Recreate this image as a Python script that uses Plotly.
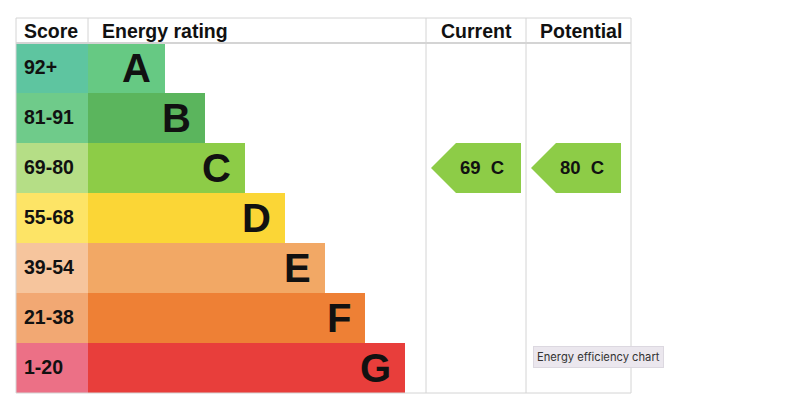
import plotly.graph_objects as go

# EPC bands, top (best) to bottom (worst)
bands = ["A", "B", "C", "D", "E", "F", "G"]
score_ranges = ["92+", "81-91", "69-80", "55-68", "39-54", "21-38", "1-20"]
band_min_scores = [92, 81, 69, 55, 39, 21, 1]
current_score = 69
potential_score = 80

band_colors = ["#66c983", "#5bb55d", "#8dcc47", "#fbd636", "#f2a865", "#ee8035", "#e83e3b"]
score_colors = ["#5ec5a0", "#6fcb8a", "#b5de86", "#fde466", "#f6c59d", "#f2a873", "#ec7086"]

FONT = "Liberation Sans"
GRID = "#d4d4d4"

# table geometry (in axis units == page pixels)
left, score_w, bar_x0 = 16, 72, 88
top, header_h, row_h = 18, 25, 50
col_cur, col_pot, right = 426, 526, 631
bottom = top + header_h + row_h * len(bands)

row_y = [top + header_h + row_h * (i + 0.5) for i in range(len(bands))]
bar_len = [77 + 40 * i for i in range(len(bands))]

# the page body has an 8px margin, so the figure starts at (8, 8)
OFF = 8


def band_of(score):
    for i, m in enumerate(band_min_scores):
        if score >= m:
            return i
    return len(bands) - 1


fig = go.Figure()

# score column cells
fig.add_trace(go.Bar(
    orientation="h", y=row_y, x=[score_w] * len(bands), base=left, width=row_h,
    marker=dict(color=score_colors, line=dict(width=0)), hoverinfo="skip",
    showlegend=False,
))
# rating bars
fig.add_trace(go.Bar(
    orientation="h", y=row_y, x=bar_len, base=bar_x0, width=row_h,
    marker=dict(color=band_colors, line=dict(width=0)), hoverinfo="skip",
    showlegend=False,
))

annotations = []
for i, b in enumerate(bands):
    annotations.append(dict(
        x=bar_x0 + bar_len[i] - 12, y=row_y[i] - 0.5, text=b, xanchor="right",
        yanchor="middle", showarrow=False,
        font=dict(family=FONT, size=40, color="#111", weight="bold"),
    ))
    annotations.append(dict(
        x=left + 6, y=row_y[i] - 1.5, text=score_ranges[i], xanchor="left",
        yanchor="middle", showarrow=False,
        font=dict(family=FONT, size=19.5, color="#111", weight="bold"),
    ))

# current / potential arrows
for score, x0, x1 in [(current_score, col_cur + 5, col_cur + 95),
                      (potential_score, col_pot + 5, col_pot + 95)]:
    i = band_of(score)
    yc = row_y[i]
    h = row_h / 2
    fig.add_trace(go.Scatter(
        x=[x0, x0 + 25, x1, x1, x0 + 25, x0],
        y=[yc, yc - h, yc - h, yc + h, yc + h, yc],
        fill="toself", fillcolor=band_colors[i], mode="lines",
        line=dict(width=0, color=band_colors[i]), hoverinfo="skip",
        showlegend=False,
    ))
    annotations.append(dict(
        x=x0 + 51, y=yc - 0.5, text=f"{score}\u00a0\u00a0{bands[i]}",
        xanchor="center", yanchor="middle", showarrow=False,
        font=dict(family=FONT, size=18.5, color="#111", weight="bold"),
    ))

# headers
header_y = top + header_h / 2 + 0.5
for x, txt, anchor in [(left + 6, "Score", "left"), (bar_x0 + 12, "Energy rating", "left"),
                       (476.5, "Current", "center"), (581, "Potential", "center")]:
    annotations.append(dict(
        x=x, y=header_y, text=txt, xanchor=anchor, yanchor="middle",
        showarrow=False, font=dict(family=FONT, size=19.5, color="#111", weight="bold"),
    ))

# browser tooltip as seen in the reference
annotations.append(dict(
    x=533, y=356.5, text="Energy efficiency chart", xanchor="left", yanchor="middle",
    showarrow=False, bgcolor="#ebe7ee", bordercolor="#dcd8e0", borderwidth=1,
    borderpad=3, font=dict(family="Inter", size=11.2, color="#333"),
))

shapes = [
    dict(type="rect", x0=left, x1=right, y0=top, y1=bottom, line=dict(color=GRID, width=1)),
    dict(type="line", x0=left, x1=right, y0=top + header_h, y1=top + header_h,
         line=dict(color=GRID, width=2)),
    dict(type="line", x0=bar_x0, x1=bar_x0, y0=top, y1=top + header_h, line=dict(color=GRID, width=1)),
    dict(type="line", x0=col_cur, x1=col_cur, y0=top, y1=bottom, line=dict(color=GRID, width=1)),
    dict(type="line", x0=col_pot, x1=col_pot, y0=top, y1=bottom, line=dict(color=GRID, width=1)),
]

fig.update_layout(
    width=800 - OFF, height=406 - OFF,
    margin=dict(l=0, r=0, t=0, b=0),
    paper_bgcolor="white", plot_bgcolor="white",
    bargap=0, barmode="overlay",
    xaxis=dict(range=[OFF, 800], visible=False, fixedrange=True),
    yaxis=dict(range=[406, OFF], visible=False, fixedrange=True),
    shapes=shapes, annotations=annotations,
)

fig.write_html("out.html", config={"displayModeBar": False})
